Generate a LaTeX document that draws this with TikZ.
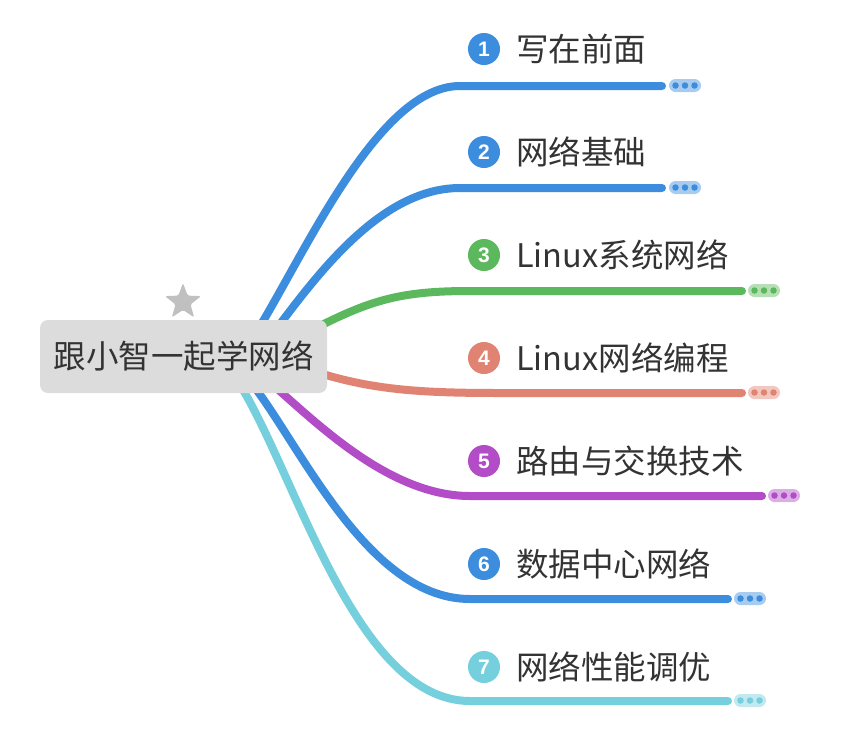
\documentclass[tikz,border=0pt]{standalone}
\usepackage{fontspec}
\setmainfont{Noto Sans CJK SC}
\newfontfamily\numfont{Liberation Sans}
\usetikzlibrary{shapes.geometric}
\definecolor{cblue}{HTML}{3C8DDE}
\definecolor{cgreen}{HTML}{5CB85C}
\definecolor{csalmon}{HTML}{E08372}
\definecolor{cpurple}{HTML}{B24CC7}
\definecolor{ccyan}{HTML}{76CFDC}
\definecolor{rootfill}{HTML}{DCDCDC}
\definecolor{txt}{HTML}{333333}
\definecolor{stargray}{HTML}{C0C0C0}
\tikzset{
  branch/.style={line width=8pt, line cap=round},
  numcirc/.style={circle, fill=#1, minimum size=32pt, inner sep=0pt, text=white, font=\numfont\bfseries\fontsize{21pt}{21pt}\selectfont},
  label/.style={anchor=west, inner sep=0pt, text=txt, font=\fontsize{32.5pt}{36pt}\selectfont},
  pill/.style={rounded corners=6.5pt, fill=#1!45!white, minimum width=32pt, minimum height=13pt, inner sep=0pt},
  dotc/.style={circle, fill=#1, minimum size=6.5pt, inner sep=0pt},
}
\newcommand{\pilldots}[3]{%
  \node[pill=#2] (#1) at (#3) {};
  \node[dotc=#2] (#1a) at ([xshift=-9.5pt]#1.center) {};
  \node[dotc=#2] (#1b) at (#1.center) {};
  \node[dotc=#2] (#1c) at ([xshift=9.5pt]#1.center) {};
}
\begin{document}
\begin{tikzpicture}[x=1pt,y=-1pt]
\useasboundingbox (0,0) rectangle (849,745);
% start/end coordinates
\coordinate (s1) at (240,357); \coordinate (e1) at (460,86);  \coordinate (f1) at (662,86);
\coordinate (s2) at (255,357); \coordinate (e2) at (460,188); \coordinate (f2) at (662,188);
\coordinate (s3) at (310,331); \coordinate (e3) at (470,291); \coordinate (f3) at (742,291);
\coordinate (s4) at (310,370); \coordinate (e4) at (500,393); \coordinate (f4) at (742,393);
\coordinate (s5) at (255,370); \coordinate (e5) at (470,496); \coordinate (f5) at (762,496);
\coordinate (s6) at (240,370); \coordinate (e6) at (470,599); \coordinate (f6) at (728,599);
\coordinate (s7) at (230,370); \coordinate (e7) at (470,701); \coordinate (f7) at (728,701);
% branches
\draw[branch, cblue]   (s1) .. controls (290,290) and (370,86)  .. (e1) -- (f1);
\draw[branch, cblue]   (s2) .. controls (300,300) and (370,188) .. (e2) -- (f2);
\draw[branch, cgreen]  (s3) .. controls (370,300) and (400,291) .. (e3) -- (f3);
\draw[branch, csalmon] (s4) .. controls (370,390) and (420,393) .. (e4) -- (f4);
\draw[branch, cpurple] (s5) .. controls (300,405) and (380,496) .. (e5) -- (f5);
\draw[branch, cblue]   (s6) .. controls (290,420) and (360,599) .. (e6) -- (f6);
\draw[branch, ccyan]   (s7) .. controls (290,450) and (350,701) .. (e7) -- (f7);
% root
\node[fill=rootfill, rounded corners=8pt, minimum width=287pt, minimum height=73pt, inner sep=0pt,
      text=txt, font=\fontsize{32.5pt}{36pt}\selectfont] (root) at (183.5,356.5) {跟小智一起学网络};
\node[star, star points=5, star point ratio=2.4, fill=stargray, rounded corners=1.5pt,
      minimum size=38pt, inner sep=0pt] (star) at (183,302) {};
% numbered circles and labels
\node[numcirc=cblue]   (n1) at (484,49)  {1}; \node[label] (t1) at (516,49)  {写在前面};
\node[numcirc=cblue]   (n2) at (484,152) {2}; \node[label] (t2) at (516,152) {网络基础};
\node[numcirc=cgreen]  (n3) at (484,255) {3}; \node[label] (t3) at (516,255) {Linux系统网络};
\node[numcirc=csalmon] (n4) at (484,358) {4}; \node[label] (t4) at (516,358) {Linux网络编程};
\node[numcirc=cpurple] (n5) at (484,461) {5}; \node[label] (t5) at (516,461) {路由与交换技术};
\node[numcirc=cblue]   (n6) at (484,564) {6}; \node[label] (t6) at (516,564) {数据中心网络};
\node[numcirc=ccyan]   (n7) at (484,667) {7}; \node[label] (t7) at (516,667) {网络性能调优};
% collapsed markers
\pilldots{p1}{cblue}{685,85.5}
\pilldots{p2}{cblue}{685,187.5}
\pilldots{p3}{cgreen}{764,290.5}
\pilldots{p4}{csalmon}{764,392.5}
\pilldots{p5}{cpurple}{784,495.5}
\pilldots{p6}{cblue}{750,598.5}
\pilldots{p7}{ccyan}{750,700.5}
\end{tikzpicture}
\end{document}
